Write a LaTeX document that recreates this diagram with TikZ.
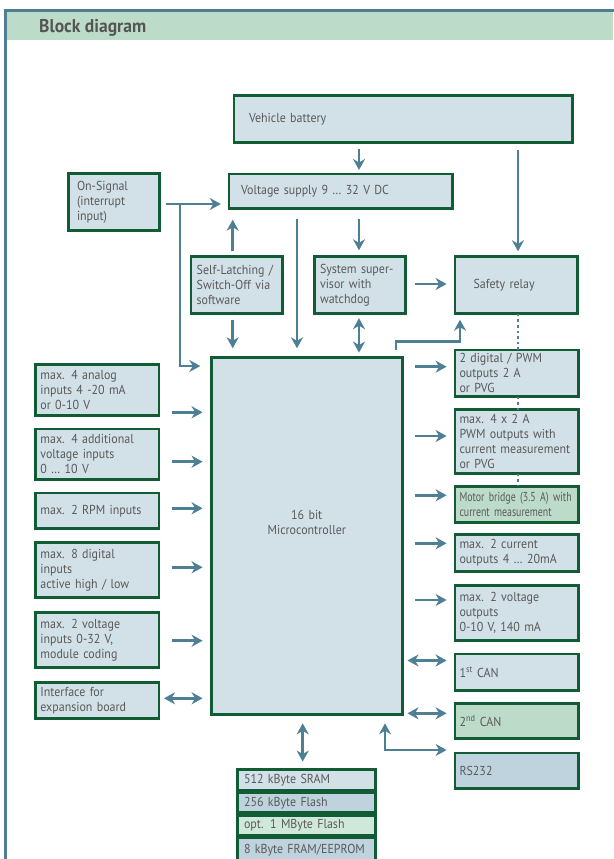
\documentclass[tikz,border=0pt]{standalone}
\usepackage{fontspec}
\setmainfont{PT Sans}[FakeStretch=0.92]
\newfontfamily\condfont{PT Sans}[FakeStretch=0.76]
\newfontfamily\headfont{PT Sans}[FakeStretch=0.95]
\usetikzlibrary{arrows.meta,calc}
\definecolor{boxfill}{HTML}{D2E0E7}
\definecolor{boxdark}{HTML}{BFD3DE}
\definecolor{boxgreen}{HTML}{BCDCC9}
\definecolor{boxlgreen}{HTML}{D0E8DA}
\definecolor{boxline}{HTML}{115C35}
\definecolor{arrc}{HTML}{4E7F94}
\definecolor{txt}{HTML}{5A5A5A}
\hyphenpenalty=10000
\newcommand\mybox[8][]{%
  \pgfmathsetmacro\bw{#6-#4-2.6}%
  \pgfmathsetmacro\bh{#7-#5-2.6}%
  \pgfmathsetmacro\bp{#3-1.3}%
  \pgfmathsetmacro\tw{\bw-2*\bp}%
  \node[box,minimum width=\bw pt,minimum height=\bh pt,inner xsep=\bp pt,text width=\tw pt,#1] (#2) at (#4+1.3,#5+1.3) {#8};}
\begin{document}
\begin{tikzpicture}[x=1pt,y=-1pt,
  box/.style={draw=boxline, line width=2.6pt, fill=boxfill, anchor=north west, inner ysep=0pt, outer sep=0pt, align=left, font=\fontsize{13}{15}\selectfont, text=txt},
  condbox/.style={font=\condfont\fontsize{13}{15}\selectfont},
  arr/.style={draw=arrc, line width=2.8pt, ->, >={Stealth[length=11pt,width=12pt,inset=3.5pt]}},
  dots/.style={draw=arrc, line width=2.6pt, dash pattern=on 2.6pt off 3pt},
  frame/.style={draw=arrc, line width=3pt},
]
\useasboundingbox (0,0) rectangle (613,859);
% frame and header
\fill[boxgreen] (7,12.5) rectangle (613,40);
\draw[frame] (5.5,862) -- (5.5,10.5) -- (616,10.5);
\node[anchor=base west, inner sep=0pt, text=txt!95!black, font=\headfont\fontsize{18.5}{20}\selectfont\bfseries] (title) at (39,32.7) {Block diagram};

% top blocks
\mybox{battery}{16.5}{232.5}{94}{574}{144}{Vehicle battery}
\mybox{vsupply}{13.5}{227.5}{172.7}{453.5}{210}{Voltage supply 9 \ldots{} 32 V DC}
\mybox{onsig}{10}{67}{172}{161}{232}{On-Signal\\(interrupt\\input)}
\mybox{selflatch}{7}{189.7}{255}{283.5}{315}{Self-Latching /\\Switch-Off via\\software}
\mybox{supervisor}{7}{313}{255}{406.7}{315}{System super-\\visor with\\watchdog}
\mybox{relay}{20}{453.6}{255}{578.8}{315}{Safety relay}
\mybox[align=center]{micro}{6}{210}{356}{403.5}{716}{16 bit\\Microcontroller\\[12pt]\mbox{}}

% outputs
\mybox{out1}{6}{453.5}{348.5}{579.5}{398}{2 digital / PWM\\outputs 2 A\\or PVG}
\mybox{out2}{6}{453.5}{408.3}{579.5}{475}{max. 4 x 2 A\\PWM outputs with\\current measurement\\or PVG}
\mybox[fill=boxgreen,condbox]{motor}{6}{453.5}{485}{579.5}{524}{\mbox{Motor bridge (3.5 A) with}\\\mbox{current measurement}}
\mybox{out4}{6}{453.5}{533.3}{579.5}{572.7}{max. 2 current\\outputs 4 \ldots{} 20mA}
\mybox{out5}{6}{453.5}{584}{579.5}{641.7}{max. 2 voltage\\outputs\\0-10 V, 140 mA}
\mybox{can1}{6}{453.5}{652.7}{579.5}{691.5}{1\textsuperscript{st} CAN}
\mybox[fill=boxgreen]{can2}{6}{453.5}{702}{579.5}{740}{2\textsuperscript{nd} CAN}
\mybox[fill=boxdark]{rs232}{6}{453.5}{751.7}{579.5}{790}{RS232}

% inputs
\mybox{in1}{6}{34.4}{363.3}{160.3}{416.7}{max. 4 analog\\inputs 4 -20 mA\\or 0-10 V}
\mybox{in2}{6}{34.4}{427.7}{160.3}{481}{max. 4 additional\\voltage inputs\\0 \ldots{} 10 V}
\mybox{in3}{6}{34.4}{491.7}{160.3}{530}{max. 2 RPM inputs}
\mybox{in4}{6}{34.4}{541}{160.3}{599}{max. 8 digital\\inputs\\active high / low}
\mybox{in5}{6}{34.4}{611}{160.3}{669}{max. 2 voltage\\inputs 0-32 V,\\module coding}
\mybox{in6}{6}{34.4}{681}{160.3}{720}{Interface for\\expansion board}

% memory
\mybox{mem1}{8}{236}{768.3}{376.7}{791.7}{512 kByte SRAM}
\mybox[fill=boxdark]{mem2}{8}{236}{791.7}{376.7}{814}{256 kByte Flash}
\mybox[fill=boxlgreen]{mem3}{8}{236}{814}{376.7}{836.7}{opt. 1 MByte Flash}
\mybox[fill=boxdark]{mem4}{8}{236}{836.7}{376.7}{864}{8 kByte FRAM/EEPROM}

% connectors top
\draw[arr, shorten <=6pt, shorten >=4pt] (battery.south -| 359,0) -- (vsupply.north -| 359,0);
\draw[arr, shorten <=7pt, shorten >=5pt] (battery.south -| 518,0) -- (relay.north -| 518,0);
\draw[arr, shorten <=6pt, shorten >=8pt] (onsig.east |- 0,204) -- (vsupply.west |- 0,204);
\coordinate (j1) at (180,204);
\draw[arr, shorten >=11pt] (j1) |- (micro.west |- 0,366);
\draw[arr, shorten <=5pt, shorten >=11pt] (selflatch.north -| 232.7,0) -- (vsupply.south -| 232.7,0);
\draw[arr, shorten <=6pt, shorten >=9pt] (selflatch.south -| 232.7,0) -- (micro.north -| 232.7,0);
\draw[arr, shorten <=10pt, shorten >=9pt] (vsupply.south -| 297,0) -- (micro.north -| 297,0);
\draw[arr, shorten <=10pt, shorten >=6pt] (vsupply.south -| 359,0) -- (supervisor.north -| 359,0);
\draw[arr, <->, shorten <=4.5pt, shorten >=4.7pt] (supervisor.south -| 359,0) -- (micro.north -| 359,0);
\draw[arr, shorten <=9.5pt, shorten >=8.3pt] (supervisor.east |- 0,284) -- (relay.west |- 0,284);
\draw[arr, shorten <=7pt, shorten >=6pt] (micro.north -| 396,0) -- ++(0,-16) -| (relay.south -| 460,0);
% dotted line
\draw[dots] (relay.south -| 518,0) -- (out1.north -| 518,0);
\draw[dots] (out1.south -| 518,0) -- (out2.north -| 518,0);
\draw[dots] (out2.south -| 518,0) -- (motor.north -| 518,0);

% outputs
\foreach \n/\yy in {out1/366.7, out2/436, motor/495.3, out4/543.3, out5/600}
  \draw[arr, shorten <=13pt, shorten >=8.2pt] (micro.east |- 0,\yy) -- (\n.west |- 0,\yy);
\foreach \n/\yy in {can1/660.5, can2/713.3}
  \draw[arr, <->, shorten <=5.3pt, shorten >=8.2pt] (micro.east |- 0,\yy) -- (\n.west |- 0,\yy);
\draw[arr, <->, shorten <=8.2pt, shorten >=8.6pt] (rs232.west |- 0,750) -| (micro.south -| 385,0);

% inputs
\foreach \n/\yy in {in1/412.3, in2/461.7, in3/508.3, in4/567.3, in5/640.7}
  \draw[arr, shorten <=13pt, shorten >=8.7pt] (\n.east |- 0,\yy) -- (micro.west |- 0,\yy);
\draw[arr, <->, shorten <=5pt, shorten >=8.7pt] (in6.east |- 0,698.3) -- (micro.west |- 0,698.3);

% memory
\draw[arr, <->, shorten <=8.6pt, shorten >=8pt] (micro.south -| 302.7,0) -- (mem1.north -| 302.7,0);
\end{tikzpicture}
\end{document}
